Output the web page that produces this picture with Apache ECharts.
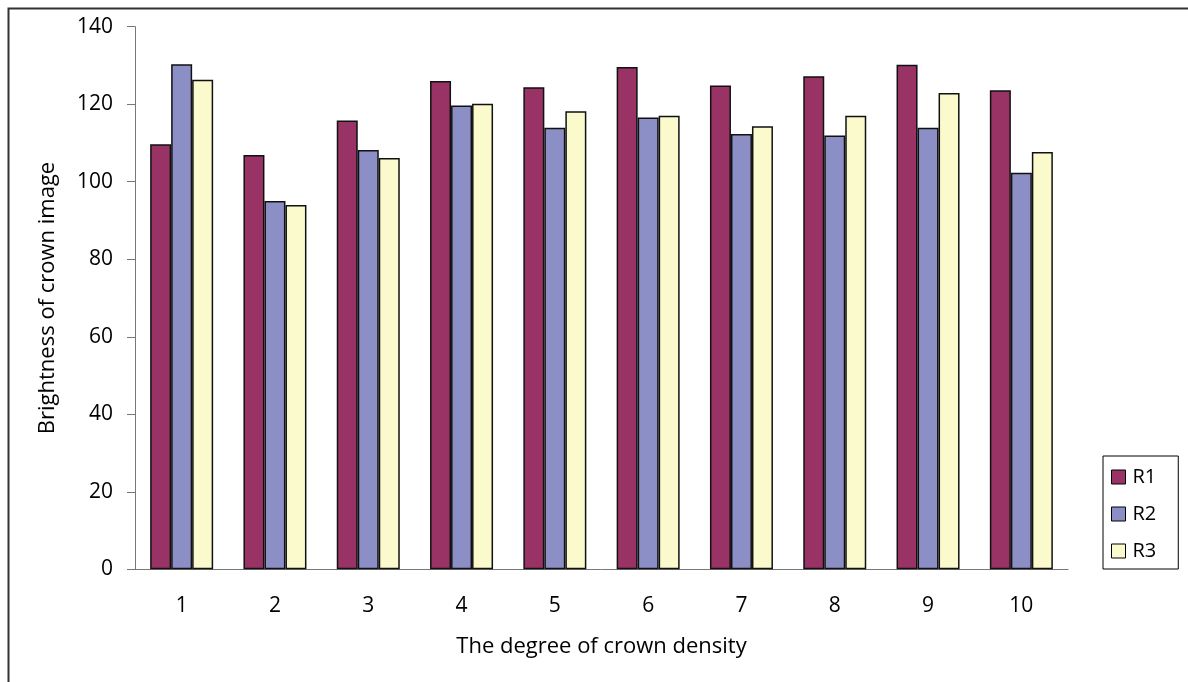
<!DOCTYPE html>
<html>
<head>
<meta charset="utf-8">
<script src="https://cdn.jsdelivr.net/npm/echarts@6/dist/echarts.min.js"></script>
<style>
html,body{margin:0;padding:0;background:#fff;}
#c{width:1188px;height:682px;}
</style>
</head>
<body>
<div id="c"></div>
<script>
const categories = ['1','2','3','4','5','6','7','8','9','10'];
const seriesNames = ['R1','R2','R3'];
const r1 = [109.7, 106.9, 115.8, 126.0, 124.4, 129.6, 124.8, 127.2, 130.2, 123.6];
const r2 = [130.3, 95.0, 108.2, 119.7, 113.9, 116.6, 112.3, 111.9, 113.9, 102.3];
const r3 = [126.3, 94.0, 106.1, 120.1, 118.2, 117.0, 114.3, 117.0, 122.9, 107.7];
const yTicks = [0, 20, 40, 60, 80, 100, 120, 140];

const colors = ['#993366', '#8c8ec6', '#fafacc'];
const font = 'Open Sans';
const chart = echarts.init(document.getElementById('c'));
const data = [r1, r2, r3];
chart.setOption({
  animation: false,
  textStyle: { fontFamily: font },
  graphic: [{
    type: 'rect', left: 6, top: 6,
    shape: { width: 1200, height: 700 },
    style: { fill: 'none', stroke: '#333', lineWidth: 2 }, z: -10
  }],
  grid: { left: 135, right: 120, top: 26.7, bottom: 112.7, containLabel: false },
  legend: {
    orient: 'vertical', left: 1103, top: 456,
    padding: [11, 22, 8, 8],
    itemWidth: 14, itemHeight: 14, itemGap: 17,
    borderColor: '#000', borderWidth: 1,
    icon: 'rect',
    itemStyle: { borderColor: '#000', borderWidth: 1 },
    textStyle: { fontFamily: font, fontSize: 20, lineHeight: 16, color: '#000', padding: [0,0,0,2] },
    data: seriesNames
  },
  xAxis: {
    type: 'category', data: categories,
    name: 'The degree of crown density', nameLocation: 'middle', nameGap: 66,
    nameTextStyle: { fontFamily: font, fontSize: 22, color: '#000' },
    axisLine: { lineStyle: { color: '#777', width: 1 } },
    axisTick: { length: 8, lineStyle: { color: '#777' } },
    axisLabel: { fontFamily: font, fontSize: 21, color: '#000', margin: 26 }
  },
  yAxis: {
    type: 'value', min: 0, max: 140, interval: 20,
    name: 'Brightness of crown image', nameLocation: 'middle', nameGap: 76,
    nameTextStyle: { fontFamily: font, fontSize: 22, color: '#000' },
    axisLine: { show: true, lineStyle: { color: '#777', width: 1 } },
    axisTick: { show: true, length: 8, lineStyle: { color: '#777' } },
    splitLine: { show: false },
    axisLabel: { fontFamily: font, fontSize: 21, color: '#000', margin: 22,
      formatter: v => yTicks.includes(v) ? String(v) : '' }
  },
  series: seriesNames.map((n, i) => ({
    name: n, type: 'bar', data: data[i],
    barWidth: 21, barGap: '0%',
    itemStyle: { color: colors[i], borderColor: '#111', borderWidth: 1.5 }
  }))
});
</script>
</body>
</html>
